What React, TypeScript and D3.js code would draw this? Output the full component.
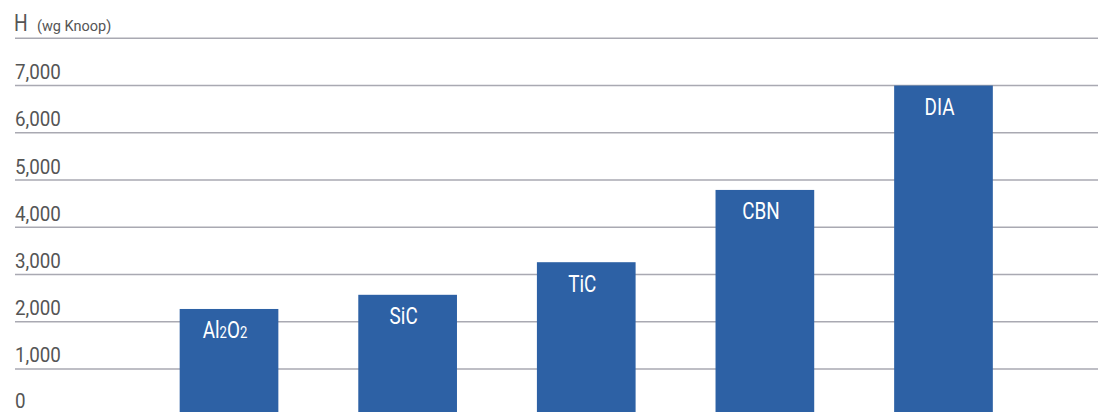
import React from "react";
import * as d3 from "d3";

const categories = ["Al2O2", "SiC", "TiC", "CBN", "DIA"];
const hardness = [2270, 2570, 3260, 4790, 7000];
const tickValues = [0, 1000, 2000, 3000, 4000, 5000, 6000, 7000];

const W = 1098;
const H = 412;
const BAR = "#2d61a5";
const GRID = "#a9a9b2";
const TEXT = "#555555";
const ROBOTO = "Roboto, 'Liberation Sans', sans-serif";

function BarLabel({ name, x, y }: { name: string; x: number; y: number }) {
  const t = `translate(${x},${y}) scale(0.77,1)`;
  if (name === "Al2O2") {
    return (
      <text transform={t} textAnchor="middle" fill="#ffffff" fontFamily={ROBOTO} fontSize={24.5}>
        Al<tspan fontSize={17}>2</tspan>O<tspan fontSize={17}>2</tspan>
      </text>
    );
  }
  return (
    <text transform={t} textAnchor="middle" fill="#ffffff" fontFamily={ROBOTO} fontSize={24.5}>
      {name}
    </text>
  );
}

export default function App() {
  const x = d3
    .scaleBand<string>()
    .domain(categories)
    .range([139.7, 1032.8])
    .paddingInner(0.4475)
    .paddingOuter(0.22375);
  const y = d3.scaleLinear().domain([0, 8000]).range([416.2, 38.3]);
  const fmt = d3.format(",");
  const gridLevels = [...tickValues, 8000];

  return (
    <svg
      width={W}
      height={H}
      style={{ position: "absolute", left: 0, top: 0, background: "#fff" }}
    >
      {gridLevels.map((v) => (
        <line
          key={"g" + v}
          x1={15}
          x2={W}
          y1={y(v)}
          y2={y(v)}
          stroke={GRID}
          strokeWidth={1.5}
        />
      ))}
      {tickValues.map((v) => (
        <text
          key={"t" + v}
          transform={`translate(15,${Math.min(y(v) - 6.5, 408)}) scale(0.94,1)`}
          fill={TEXT}
          fontFamily={ROBOTO}
          fontSize={20}
        >
          {fmt(v)}
        </text>
      ))}
      <text transform="translate(14,30.5) scale(0.8,1)" fill={TEXT} fontFamily={ROBOTO} fontSize={24}>
        H
      </text>
      <text x={37} y={30.5} fill={TEXT} fontFamily={ROBOTO} fontSize={14.5}>
        (wg Knoop)
      </text>
      {categories.map((c, i) => {
        const bx = x(c) as number;
        const top = y(hardness[i]);
        return (
          <g key={c}>
            <rect x={bx} y={top} width={x.bandwidth()} height={y(0) - top} fill={BAR} />
            <BarLabel name={c} x={bx + x.bandwidth() / 2 - 4} y={top + 29.5} />
          </g>
        );
      })}
    </svg>
  );
}
